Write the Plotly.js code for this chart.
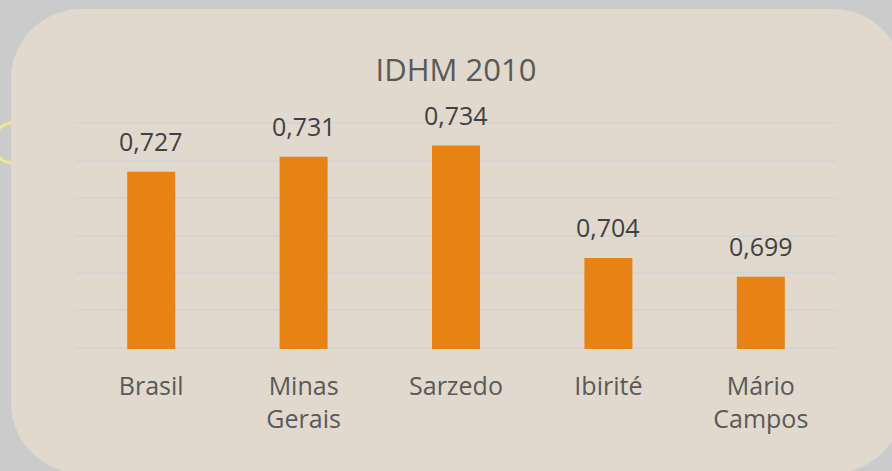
<!DOCTYPE html>
<html>
<head>
<meta charset="utf-8">
<script src="https://cdn.plot.ly/plotly-3.0.1.min.js"></script>
<style>
  html, body { margin: 0; padding: 0; background: #cbcbcb; }
  #chart { width: 892px; height: 471px; }
</style>
</head>
<body>
<div id="chart"></div>
<script>
// ---- data ----
const categories = ["Brasil", "Minas Gerais", "Sarzedo", "Ibirité", "Mário Campos"];
const tickLabels = ["Brasil", "Minas<br>Gerais", "Sarzedo", "Ibirité", "Mário<br>Campos"];
const idhm2010 = [0.727, 0.731, 0.734, 0.704, 0.699];
const chartTitle = "IDHM 2010";

// ---- geometry helpers (pixel -> paper) ----
const W = 892, H = 471;
const M = { l: 75, r: 55, t: 122, b: 122 };
const pw = W - M.l - M.r, ph = H - M.t - M.b;
const px = x => (x - M.l) / pw;
const py = y => (H - M.b - y) / ph;

function roundedRectPath(x0, y0, x1, y1, r) {
  const k = 0.5523 * r;
  const P = (x, y) => px(x).toFixed(5) + "," + py(y).toFixed(5);
  return "M" + P(x0 + r, y0) +
    " L" + P(x1 - r, y0) +
    " C" + P(x1 - r + k, y0) + " " + P(x1, y0 + r - k) + " " + P(x1, y0 + r) +
    " L" + P(x1, y1 - r) +
    " C" + P(x1, y1 - r + k) + " " + P(x1 - r + k, y1) + " " + P(x1 - r, y1) +
    " L" + P(x0 + r, y1) +
    " C" + P(x0 + r - k, y1) + " " + P(x0, y1 - r + k) + " " + P(x0, y1 - r) +
    " L" + P(x0, y0 + r) +
    " C" + P(x0, y0 + r - k) + " " + P(x0 + r - k, y0) + " " + P(x0 + r, y0) + " Z";
}

const fontFam = "'Open Sans', 'DejaVu Sans', sans-serif";

const trace = {
  type: "bar",
  x: categories,
  y: idhm2010,
  marker: { color: "#e68314", line: { width: 0 } },
  hoverinfo: "x+y"
};

const annotations = categories.map((c, i) => ({
  x: c, y: idhm2010[i], xref: "x", yref: "y",
  text: idhm2010[i].toFixed(3).replace(".", ","),
  showarrow: false, yanchor: "bottom", yshift: 12,
  font: { family: fontFam, size: 25, color: "#404040" }
}));

const layout = {
  width: W, height: H,
  margin: M,
  paper_bgcolor: "#cbcbcb",
  plot_bgcolor: "rgba(0,0,0,0)",
  showlegend: false,
  bargap: 0.685,
  title: {
    text: chartTitle,
    font: { family: fontFam, size: 31, color: "#595959" },
    x: 0.5, xref: "paper", xanchor: "center",
    y: 1 - 70 / H, yref: "container", yanchor: "middle"
  },
  xaxis: {
    type: "category",
    tickvals: categories,
    ticktext: tickLabels,
    showgrid: false, zeroline: false, showline: false,
    ticks: "", ticklabelstandoff: 20,
    tickfont: { family: fontFam, size: 25, color: "#595959" }
  },
  yaxis: {
    range: [0.6797, 0.7403],
    dtick: 0.01, tick0: 0.68,
    showticklabels: false,
    showgrid: true, gridcolor: "#d7d5d3", gridwidth: 2,
    zeroline: false, showline: false, ticks: ""
  },
  annotations: annotations,
  shapes: [
    {
      type: "circle", xref: "paper", yref: "paper", layer: "below",
      x0: px(-7), x1: px(33), y0: py(163), y1: py(123),
      line: { color: "#efe890", width: 3 }, fillcolor: "rgba(0,0,0,0)"
    },
    {
      type: "path", xref: "paper", yref: "paper", layer: "below",
      path: roundedRectPath(11, 9, 903, 473, 70),
      fillcolor: "#e1d9ce", line: { width: 0 }
    }
  ]
};

Plotly.newPlot("chart", [trace], layout, { displayModeBar: false, staticPlot: true });
</script>
</body>
</html>
